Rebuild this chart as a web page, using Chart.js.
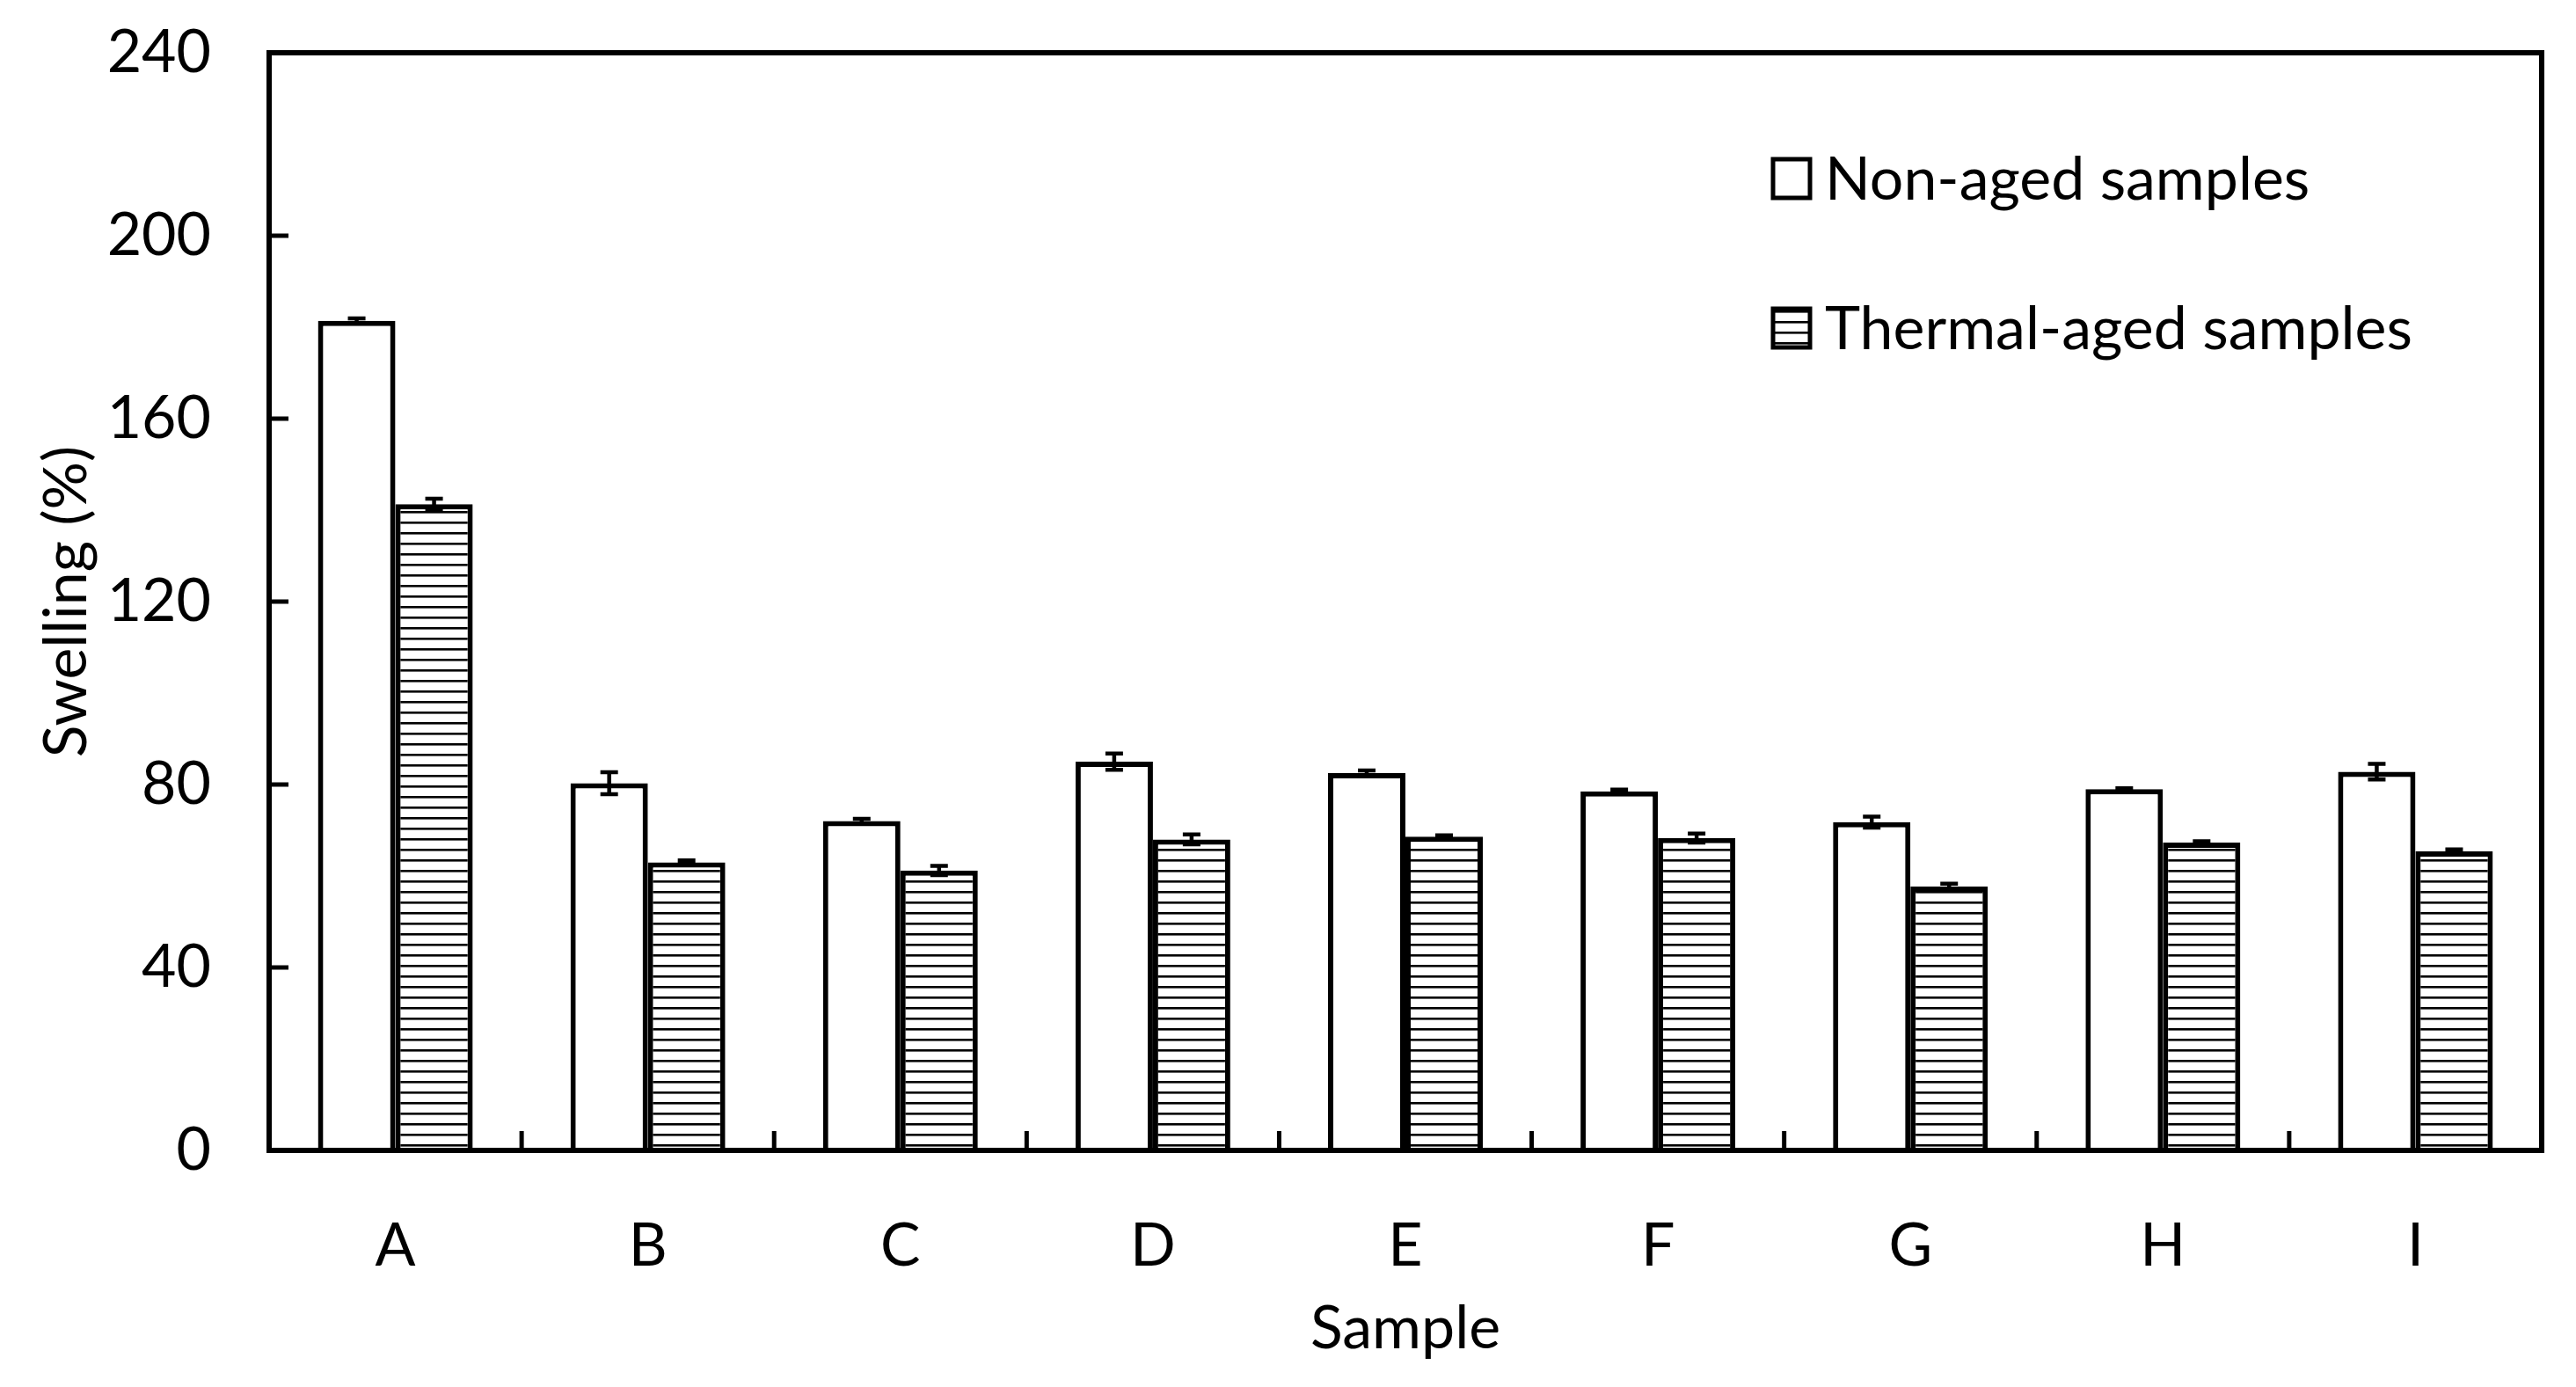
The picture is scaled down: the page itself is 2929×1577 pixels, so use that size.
<!DOCTYPE html>
<html>
<head>
<meta charset="utf-8">
<script src="https://cdn.jsdelivr.net/npm/chart.js@4.4.1/dist/chart.umd.min.js"></script>
<style>
  html, body { margin: 0; padding: 0; background: #ffffff; }
  canvas { display: block; }
</style>
</head>
<body>
<canvas id="c" width="2929" height="1577"></canvas>
<script>
// ---- data ----
const categories = ['A', 'B', 'C', 'D', 'E', 'F', 'G', 'H', 'I'];
const nonAged = [181.4, 80.3, 72.0, 85.0, 82.5, 78.5, 71.8, 79.0, 82.8];
const nonAgedErr = [0.5, 2.4, 0.5, 1.8, 0.6, 0.4, 1.2, 0.2, 1.7];
const thermalAged = [141.3, 63.0, 61.2, 68.0, 68.6, 68.3, 57.7, 67.3, 65.4];
const thermalAgedErr = [1.2, 0.4, 1.0, 1.1, 0.3, 1.0, 0.6, 0.3, 0.4];
const yTickValues = [0, 40, 80, 120, 160, 200, 240];
const seriesLabels = ['Non-aged samples', 'Thermal-aged samples'];
const xTitle = 'Sample';
const yTitle = 'Swelling (%)';

const FONT = 'Lato';
const FS = 68;

// horizontal hatch pattern
function makeHatch() {
  const p = document.createElement('canvas');
  p.width = 12; p.height = 12;
  const g = p.getContext('2d');
  g.fillStyle = '#ffffff';
  g.fillRect(0, 0, 12, 12);
  g.fillStyle = '#000000';
  g.fillRect(0, 5, 12, 2.6);
  return g.createPattern(p, 'repeat');
}
const hatch = makeHatch();

const errorBarPlugin = {
  id: 'errorBars',
  afterDatasetsDraw(chart) {
    const ctx = chart.ctx;
    const y = chart.scales.y;
    const errs = [nonAgedErr, thermalAgedErr];
    ctx.save();
    ctx.strokeStyle = '#000';
    ctx.lineWidth = 4.5;
    chart.data.datasets.forEach((ds, di) => {
      const meta = chart.getDatasetMeta(di);
      meta.data.forEach((bar, i) => {
        const v = ds.data[i], e = errs[di][i];
        const yHi = y.getPixelForValue(v + e);
        const yLo = y.getPixelForValue(v - e);
        const x = bar.x;
        ctx.beginPath();
        ctx.moveTo(x, yHi); ctx.lineTo(x, yLo);
        ctx.moveTo(x - 10, yHi); ctx.lineTo(x + 10, yHi);
        ctx.moveTo(x - 10, yLo); ctx.lineTo(x + 10, yLo);
        ctx.stroke();
      });
    });
    ctx.restore();
  }
};

const framePlugin = {
  id: 'frame',
  afterDraw(chart) {
    const ctx = chart.ctx;
    const a = chart.chartArea;
    const x = chart.scales.x, y = chart.scales.y;
    ctx.save();
    ctx.strokeStyle = '#000';
    // inward y ticks
    ctx.lineWidth = 5;
    yTickValues.forEach(v => {
      const py = y.getPixelForValue(v);
      ctx.beginPath(); ctx.moveTo(a.left, py); ctx.lineTo(a.left + 22, py); ctx.stroke();
    });
    // inward x ticks at category boundaries
    const n = categories.length;
    for (let i = 1; i < n; i++) {
      const px = (x.getPixelForValue(i - 1) + x.getPixelForValue(i)) / 2;
      ctx.beginPath(); ctx.moveTo(px, a.bottom); ctx.lineTo(px, a.bottom - 22); ctx.stroke();
    }
    // frame
    ctx.lineWidth = 6;
    ctx.strokeRect(a.left, a.top, a.right - a.left, a.bottom - a.top);
    // legend
    const rows = [203, 373];
    ctx.font = FS + 'px ' + FONT;
    ctx.textBaseline = 'alphabetic';
    chart.data.datasets.forEach((ds, di) => {
      const cy = rows[di];
      ctx.fillStyle = ds.backgroundColor;
      ctx.fillRect(2016, cy - 22, 42, 44);
      ctx.lineWidth = 5;
      ctx.strokeRect(2016, cy - 22, 42, 44);
      ctx.fillStyle = '#000';
      ctx.fillText(ds.label, 2075, cy + 24);
    });
    ctx.restore();
  }
};

new Chart(document.getElementById('c'), {
  type: 'bar',
  data: {
    labels: categories,
    datasets: [
      {
        label: seriesLabels[0],
        data: nonAged,
        backgroundColor: '#ffffff',
        borderColor: '#000000',
        borderWidth: 6,
        borderSkipped: 'start',
        barPercentage: 1.0,
        categoryPercentage: 0.613
      },
      {
        label: seriesLabels[1],
        data: thermalAged,
        backgroundColor: hatch,
        borderColor: '#000000',
        borderWidth: 6,
        borderSkipped: 'start',
        barPercentage: 1.0,
        categoryPercentage: 0.613
      }
    ]
  },
  options: {
    responsive: false,
    devicePixelRatio: 1,
    animation: false,
    layout: { padding: { top: 60, right: 39, left: 0, bottom: 0 } },
    plugins: { legend: { display: false }, tooltip: { enabled: false } },
    scales: {
      x: {
        grid: { display: false, drawTicks: false },
        border: { display: false },
        ticks: { color: '#000', font: { family: FONT, size: FS }, padding: 68 },
        title: { display: true, text: xTitle, color: '#000', font: { family: FONT, size: FS }, padding: { top: 0, bottom: 25 } },
        afterFit(s) { s.height = 269; s.paddingLeft = 0; s.paddingRight = 0; }
      },
      y: {
        min: 0, max: 240,
        grid: { display: false, drawTicks: false },
        border: { display: false },
        ticks: {
          stepSize: 40, color: '#000', font: { family: FONT, size: FS }, padding: 66
        },
        afterBuildTicks(s) { s.ticks = yTickValues.map(v => ({ value: v })); },
        title: { display: true, text: yTitle, color: '#000', font: { family: FONT, size: FS }, padding: { top: 35, bottom: 0 } },
        afterFit(s) { s.width = 306; s.paddingTop = 0; s.paddingBottom = 0; }
      }
    }
  },
  plugins: [errorBarPlugin, framePlugin]
});
</script>
</body>
</html>
